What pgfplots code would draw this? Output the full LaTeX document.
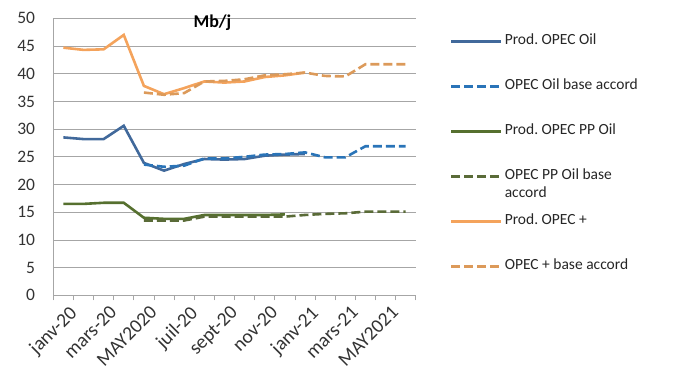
\documentclass[border=0pt]{standalone}
\usepackage{pgfplots}
\pgfplotsset{compat=1.18}
\usepackage{fontspec}
\setmainfont{Carlito}
\frenchspacing
\definecolor{cblue}{HTML}{41699B}
\definecolor{cblued}{HTML}{2A74B8}
\definecolor{cgreen}{HTML}{56702F}
\definecolor{cgreend}{HTML}{5A6B38}
\definecolor{corange}{HTML}{F4A35C}
\definecolor{coranged}{HTML}{DC9A5A}
\definecolor{cgrid}{HTML}{A6A6A6}
\begin{document}
\begin{tikzpicture}
\path[use as bounding box] (0pt,0pt) rectangle (680pt,370pt);
\begin{axis}[
  at={(53.3pt,74.7pt)}, anchor=south west,
  scale only axis, width=362.4pt, height=277pt,
  xmin=-0.5, xmax=17.5, ymin=0, ymax=50,
  ytick={0,5,...,50},
  xtick={0,2,...,16},
  xticklabels={janv-20,mars-20,MAY2020,juil-20,sept-20,nov-20,janv-21,mars-21,MAY2021},
  minor xtick={-0.5,0.5,...,17.5},
  major x tick style={draw=none},
  minor x tick style={draw=cgrid, line width=0.8pt},
  major tick length=0pt,
  minor tick length=5pt,
  tick align=outside,
  ytick style={draw=none},
  axis lines*=left,
  axis line style={draw=cgrid, line width=0.8pt, -},
  ymajorgrids, grid style={draw=cgrid, line width=0.8pt},
  font=\fontsize{17.5pt}{20pt}\selectfont,
  ticklabel style={font=\fontsize{17.5pt}{20pt}\selectfont, text=black!80},
  /pgf/number format/assume math mode=true,
  yticklabel style={anchor=east, inner sep=0pt, xshift=-18pt},
  xticklabel style={rotate=45, anchor=north east, inner sep=1pt, xshift=-2pt, yshift=-9pt, font=\fontsize{19.5pt}{22pt}\selectfont},
  title={\textbf{Mb/j}},
  title style={at={(0.439,1)}, anchor=north, inner sep=0pt, yshift=-2pt, font=\fontsize{18pt}{20pt}\selectfont},
  legend image code/.code={\draw[#1] (0pt,0pt) -- (50pt,0pt);},
  legend style={at={(1.0946,0.952)}, anchor=north west, draw=none, fill=none,
    inner sep=0pt, row sep=26pt, column sep=0pt,
    nodes={inner sep=2pt, text height=11pt, text depth=4pt},
    font=\fontsize{15.5pt}{19pt}\selectfont, text=black!85},
  legend cell align=left,
  every axis plot/.append style={line width=2.6pt},
]
\addplot[cblue] coordinates {(0,28.5)(1,28.2)(2,28.2)(3,30.6)(4,23.9)(5,22.5)(6,23.7)(7,24.6)(8,24.5)(9,24.6)(10,25.2)(11,25.4)(12,25.5)};
\addlegendentry{Prod. OPEC Oil}
\addplot[cblued, dash pattern=on 9pt off 4pt] coordinates {(4,23.6)(5,23.2)(6,23.4)(7,24.7)(8,24.7)(9,25.0)(10,25.4)(11,25.5)(12,25.8)(13,24.9)(14,24.9)(15,26.9)(16,26.9)(17,26.9)};
\addlegendentry{OPEC Oil base accord}
\addplot[cgreen] coordinates {(0,16.5)(1,16.5)(2,16.7)(3,16.7)(4,14.0)(5,13.8)(6,13.8)(7,14.5)(8,14.5)(9,14.5)(10,14.5)(11,14.6)};
\addlegendentry{Prod. OPEC PP Oil}
\addplot[cgreend, dash pattern=on 9pt off 4pt] coordinates {(4,13.5)(5,13.5)(6,13.5)(7,14.2)(8,14.2)(9,14.2)(10,14.2)(11,14.2)(12,14.5)(13,14.7)(14,14.8)(15,15.1)(16,15.1)(17,15.1)};
\addlegendentry{\rlap{\raisebox{-18pt}[0pt][0pt]{accord}}OPEC PP Oil base}
\addplot[corange] coordinates {(0,44.7)(1,44.3)(2,44.4)(3,47.0)(4,37.8)(5,36.3)(6,37.4)(7,38.6)(8,38.4)(9,38.6)(10,39.4)(11,39.7)(12,40.2)};
\addlegendentry{Prod. OPEC +}
\addplot[coranged, dash pattern=on 9pt off 4pt] coordinates {(4,36.6)(5,36.2)(6,36.5)(7,38.6)(8,38.7)(9,39.0)(10,39.7)(11,39.9)(12,40.2)(13,39.6)(14,39.5)(15,41.7)(16,41.7)(17,41.7)};
\addlegendentry{OPEC + base accord}
\end{axis}
\end{tikzpicture}
\end{document}
